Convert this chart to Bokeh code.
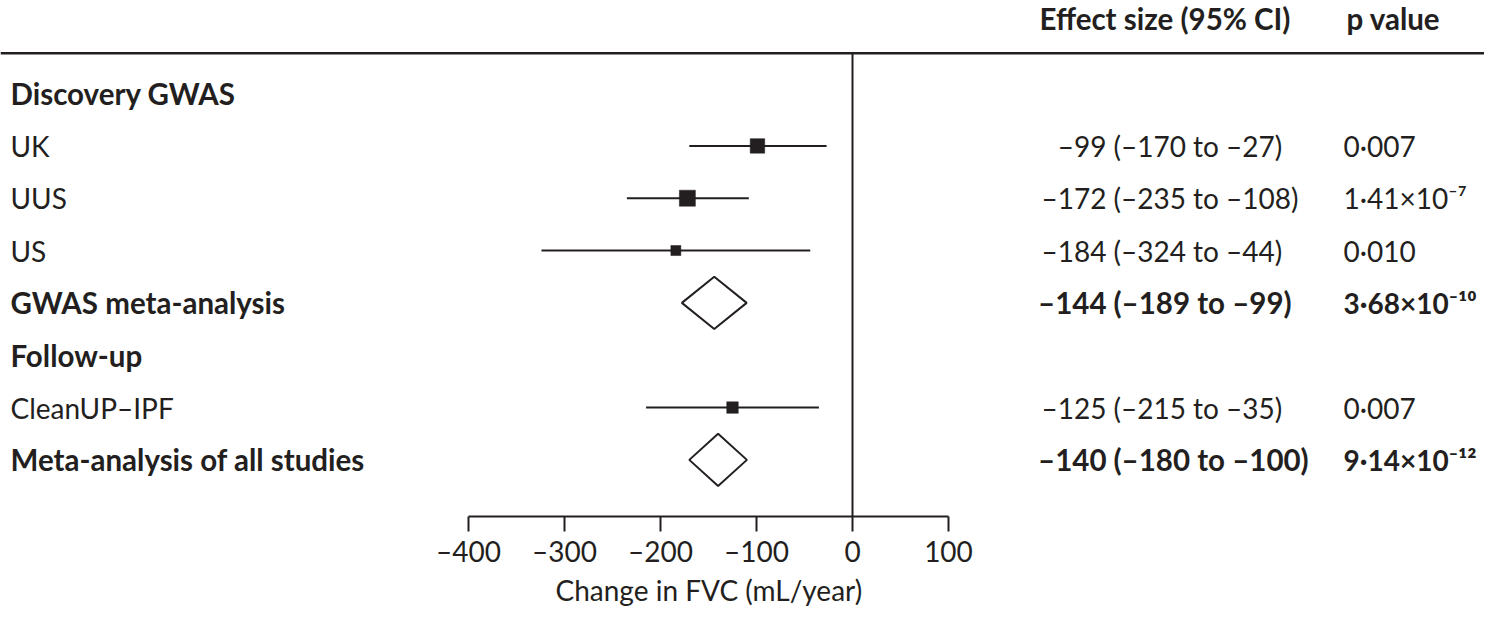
from bokeh.plotting import figure
from bokeh.models import Range1d, LinearAxis, FixedTicker, Span, ColumnDataSource, Title
from bokeh.embed import file_html
from bokeh.resources import INLINE
from bokeh.core.properties import value

# ---------------- data ----------------
row_labels = ["Discovery GWAS", "UK", "UUS", "US", "GWAS meta-analysis",
              "Follow-up", "CleanUP–IPF", "Meta-analysis of all studies"]
section_names = ["Discovery GWAS", "Follow-up"]

study_names = ["UK", "UUS", "US", "CleanUP–IPF"]
study_est = [-99, -172, -184, -125]
study_lo = [-170, -235, -324, -215]
study_hi = [-27, -108, -44, -35]
study_p = ["0·007", "1·41×10⁻⁷", "0·010", "0·007"]

meta_names = ["GWAS meta-analysis", "Meta-analysis of all studies"]
meta_est = [-144, -140]
meta_lo = [-189, -180]
meta_hi = [-99, -100]
meta_p = ["3·68×10⁻¹⁰", "9·14×10⁻¹²"]

tick_values = [-400, -300, -200, -100, 0, 100]
tick_labels = ["–400", "–300", "–200", "–100", "0", "100"]

header_effect = "Effect size (95% CI)"
header_p = "p value"
x_axis_label = "Change in FVC (mL/year)"

# ---------------- styles / layout ----------------
W, H = 1484, 607
INK = "#231f20"
FONT = value("Lato")
FS = "28px"
FS_B = "29.5px"
FS_P = "28px"
square_sizes = [14.5, 16, 10, 11.5]    # marker sizes (study weights), px
DIAMOND_HALF_H = 0.5                   # in row units
DIAMOND_SCALE = 0.75
AXIS_Y = 515.7
P_COL_X = 1343
AXIS_TITLE_LEFT = 555


def xd(px):  # page pixel -> data x
    return (px - 852) / 0.96


def yd(py):  # page pixel -> row units
    return (py - 93) / 52.3


def fmt(v):
    return ("–" + str(abs(v))) if v < 0 else str(v)


row_of = {name: i for i, name in enumerate(row_labels)}

p = figure(width=W, height=H, output_backend="svg", toolbar_location=None,
           x_range=Range1d(xd(0), xd(W)), y_range=Range1d(yd(AXIS_Y), yd(0)),
           x_axis_location=None, y_axis_location=None,
           min_border_left=0, min_border_right=0, min_border_top=0,
           min_border_bottom=H - round(AXIS_Y))
p.outline_line_color = None
p.xgrid.visible = False
p.ygrid.visible = False
p.background_fill_color = "white"
p.border_fill_color = "white"

# x axis
ax = LinearAxis(ticker=FixedTicker(ticks=tick_values), bounds=(min(tick_values), max(tick_values)))
ax.major_label_overrides = {v: l for v, l in zip(tick_values, tick_labels)}
ax.minor_tick_line_color = None
ax.major_tick_in = 0
ax.major_tick_out = 15
ax.major_tick_line_width = 2
ax.major_tick_line_color = INK
ax.axis_line_width = 2
ax.axis_line_color = INK
ax.major_label_text_font = "Lato"
ax.major_label_text_font_size = FS
ax.major_label_text_color = INK
ax.major_label_standoff = 2
p.add_layout(ax, "below")

# axis title, under the drawn axis range
p.add_layout(Title(text=x_axis_label, align="left", offset=AXIS_TITLE_LEFT, standoff=0,
                   text_font="Lato", text_font_size=FS, text_font_style="normal",
                   text_color=INK), "below")

# top rule and null line
p.add_layout(Span(location=yd(52.7), dimension="width", line_color=INK, line_width=2.5))
p.segment(x0=[0], y0=[yd(52.7)], x1=[0], y1=[yd(AXIS_Y)], line_color=INK, line_width=2)

# headers
p.text(x=[xd(1039)], y=[yd(17.5)], text=[header_effect], text_font=FONT, text_font_size=FS_B,
       text_font_style="bold", text_color=INK, text_baseline="middle", text_align="left")
p.text(x=[xd(P_COL_X + 3)], y=[yd(17.5)], text=[header_p], text_font=FONT, text_font_size=FS_B,
       text_font_style="bold", text_color=INK, text_baseline="middle", text_align="left")

# row labels
bold_rows = section_names + meta_names
for bold in (False, True):
    names = [n for n in row_labels if (n in bold_rows) == bold]
    p.text(x=[xd(10)] * len(names), y=[row_of[n] for n in names], text=names,
           text_font=FONT, text_font_size=FS_B if bold else FS,
           text_font_style="bold" if bold else "normal",
           text_color=INK, text_baseline="middle", text_align="left")

# studies: CI lines and squares
s_rows = [row_of[n] for n in study_names]
src = ColumnDataSource(dict(y=s_rows, est=study_est, lo=study_lo, hi=study_hi, size=square_sizes))
p.segment(x0="lo", y0="y", x1="hi", y1="y", source=src, line_color=INK, line_width=2)
p.scatter(x="est", y="y", size="size", marker="square", source=src,
          fill_color=INK, line_color=INK, line_width=0.5)

# meta-analyses: diamonds
m_rows = [row_of[n] for n in meta_names]
xs, ys = [], []
for e, lo, hi, r in zip(meta_est, meta_lo, meta_hi, m_rows):
    hw = DIAMOND_SCALE * (hi - lo) / 2
    xs.append([e - hw, e, e + hw, e])
    ys.append([r, r - DIAMOND_HALF_H, r, r + DIAMOND_HALF_H])
p.patches(xs=xs, ys=ys, fill_color="white", line_color=INK, line_width=2)

# effect size & p value columns
for names, est, lo, hi, pv, bold in ((study_names, study_est, study_lo, study_hi, study_p, False),
                                     (meta_names, meta_est, meta_lo, meta_hi, meta_p, True)):
    rows = [row_of[n] for n in names]
    style = "bold" if bold else "normal"
    fs = FS_B if bold else FS
    p.text(x=[xd(1106)] * len(rows), y=rows, text=[fmt(e) for e in est], text_font=FONT,
           text_font_size=fs, text_font_style=style, text_color=INK,
           text_baseline="middle", text_align="right")
    p.text(x=[xd(1113)] * len(rows), y=rows,
           text=["(" + fmt(a) + " to " + fmt(b) + ")" for a, b in zip(lo, hi)], text_font=FONT,
           text_font_size=fs, text_font_style=style, text_color=INK,
           text_baseline="middle", text_align="left")
    p.text(x=[xd(P_COL_X)] * len(rows), y=rows, text=pv, text_font=FONT,
           text_font_size=FS_P, text_font_style=style, text_color=INK,
           text_baseline="middle", text_align="left")

open("out.html", "w").write(file_html(p, INLINE))
